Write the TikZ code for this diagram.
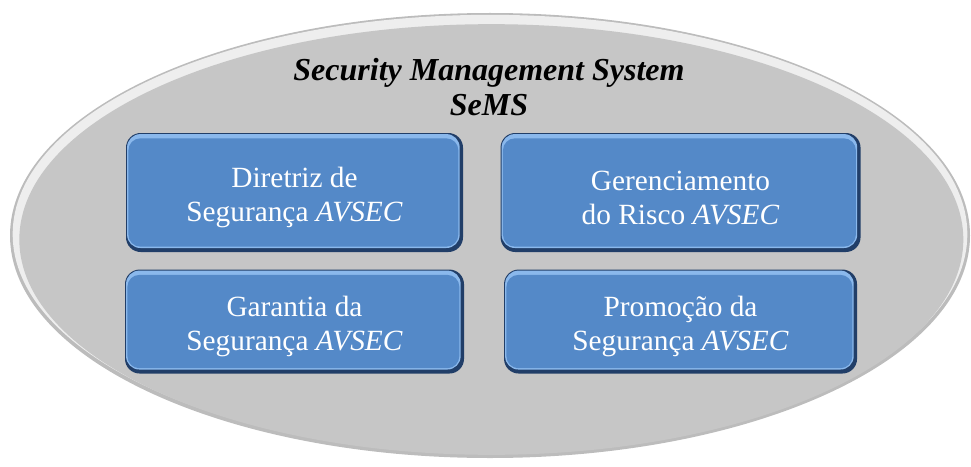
\documentclass[tikz,border=0pt]{standalone}
\usepackage{fontspec}
\setmainfont{Liberation Serif}
\usepackage{tikz}
\usetikzlibrary{positioning,shapes.geometric}
\definecolor{boxblue}{RGB}{84,137,200}
\definecolor{boxlight}{RGB}{138,184,236}
\definecolor{boxdark}{RGB}{33,62,104}
\definecolor{discgray}{RGB}{198,198,198}
\definecolor{disclight}{RGB}{238,238,238}
\definecolor{discedge}{RGB}{188,188,188}
\tikzset{
    box/.style={
        rounded corners=11pt,
        align=center,
        text=white,
        font=\fontsize{22}{25.5}\selectfont,
        fill=boxdark,
        path picture={
            \fill[boxlight, rounded corners=10pt]
                ([shift={(0.8pt,-0.8pt)}]path picture bounding box.north west)
                rectangle ([shift={(-2.5pt,3pt)}]path picture bounding box.south east);
            \fill[boxblue, rounded corners=9pt]
                ([shift={(1.8pt,-4pt)}]path picture bounding box.north west)
                rectangle ([shift={(-3.5pt,4pt)}]path picture bounding box.south east);
        }
    },
    disc/.style={
        ellipse,
        minimum width=720pt,
        minimum height=333.75pt,
        fill=discedge,
        path picture={
            \fill[disclight] ([yshift=1pt]path picture bounding box.center)
                ellipse [x radius=358pt, y radius=164.5pt];
            \fill[discgray] ([shift={(1pt,-3pt)}]path picture bounding box.center)
                ellipse [x radius=354pt, y radius=161.5pt];
        }
    },
    heading/.style={
        align=center,
        font=\fontsize{24}{26.25}\selectfont\bfseries\itshape
    }
}
\newcommand{\avsec}{\textit{AVSEC}}
\newcommand{\topgap}{\rule{0pt}{22.5pt}}

\begin{document}
\begin{tikzpicture}[x=0.75pt, y=-0.75pt, node distance=12.75pt and 27.75pt]
        \useasboundingbox (0,0) rectangle (971,467);
        \node[disc] (sems) at (490,235.5) {};
        \node[heading] (title) at (489,87) {Security Management System\\SeMS};

        \node[box, minimum width=252.75pt, minimum height=89.25pt] (policy) at (294.5,192.5) {\topgap Diretriz de\\Segurança \avsec};
        \node[box, minimum width=270pt, minimum height=89.25pt, right=of policy] (risk) {\topgap Gerenciamento\\do Risco \avsec};
        \node[box, minimum width=254.25pt, minimum height=78pt, below=of policy] (assurance) {\topgap Garantia da\\Segurança \avsec};
        \node[box, minimum width=264.75pt, minimum height=78pt, below=of risk] (promotion) {\topgap Promoção da\\Segurança \avsec};
    \end{tikzpicture}
\end{document}
